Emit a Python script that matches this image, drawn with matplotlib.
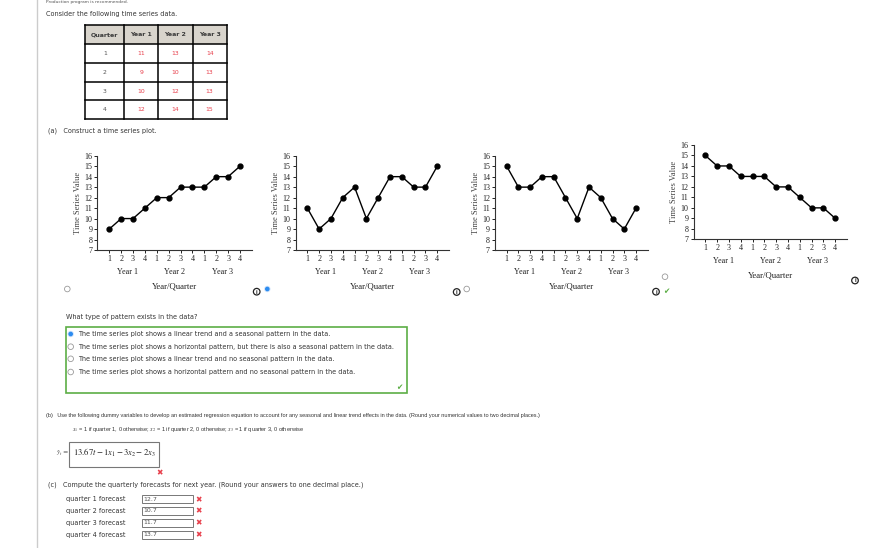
import matplotlib
matplotlib.use("Agg")
import matplotlib.pyplot as plt
from matplotlib.patches import Rectangle, Circle

plt.rcParams["mathtext.fontset"] = "stix"

W, H = 876, 548

# data from the question table
quarters = [1, 2, 3, 4]
years = ["Year 1", "Year 2", "Year 3"]
table_vals = [[11, 13, 14], [9, 10, 13], [10, 12, 13], [12, 14, 15]]

# the four answer choices of part (a)
series_a = [9, 10, 10, 11, 12, 12, 13, 13, 13, 14, 14, 15]
series_b = [table_vals[q][y] for y in range(3) for q in range(4)]
series_c = [15, 13, 13, 14, 14, 12, 10, 13, 12, 10, 9, 11]
series_d = [15, 14, 14, 13, 13, 13, 12, 12, 11, 10, 10, 9]

pattern_opts = [
    "The time series plot shows a linear trend and a seasonal pattern in the data.",
    "The time series plot shows a horizontal pattern, but there is also a seasonal pattern in the data.",
    "The time series plot shows a linear trend and no seasonal pattern in the data.",
    "The time series plot shows a horizontal pattern and no seasonal pattern in the data.",
]
forecast_labels = ["quarter 1 forecast", "quarter 2 forecast", "quarter 3 forecast", "quarter 4 forecast"]
forecast_vals = ["12.7", "10.7", "11.7", "13.7"]

SANS = "DejaVu Sans"
NARROW = "Liberation Sans"
SERIF = "Liberation Serif"
TXT = "#333333"
RED = "#e8404c"
GREEN = "#5cae45"

fig = plt.figure(figsize=(W / 100, H / 100), dpi=100)
fig.patch.set_facecolor("white")

# overlay in pixel coordinates for the page elements
ov = fig.add_axes([0, 0, 1, 1])
ov.set_xlim(0, W)
ov.set_ylim(H, 0)
ov.axis("off")


def t(x, y, s, size=4.7, color=TXT, **kw):
    kw.setdefault("va", "center")
    kw.setdefault("family", SANS)
    ov.text(x, y, s, fontsize=size, color=color, **kw)


def radio(x, y, selected=False):
    if selected:
        ov.add_patch(Circle((x, y), 3.2, facecolor="#cfe3fb", edgecolor="none"))
        ov.add_patch(Circle((x, y), 2.3, facecolor="#2d8cf0", edgecolor="none"))
    else:
        ov.add_patch(Circle((x, y), 2.8, facecolor="white", edgecolor="#9a9a9a", lw=0.6))


def info(x, y):
    ov.add_patch(Circle((x, y), 3.3, facecolor="white", edgecolor="#222222", lw=0.9))
    t(x, y + 0.3, "i", size=3.5, color="#222222", ha="center", weight="bold")


def cross(x, y):
    t(x, y, "\u2716", size=5.5, color=RED, ha="center")


def check(x, y):
    t(x, y, "\u2714", size=5.5, color=GREEN, ha="center")


# page edge and the end of the line above the question
ov.plot([37, 37], [0, H], color="#cccccc", lw=1)
t(46, 1.9, "Production program is recommended.", size=3.2, color="#555555")
t(46, 14, "Consider the following time series data.")

# table
col_x = [85.3, 124.3, 158.3, 192.7, 226.7]
row_y = [25.3, 44, 63.3, 82, 100.3, 119]
ov.add_patch(Rectangle((col_x[0], row_y[0]), col_x[-1] - col_x[0], row_y[1] - row_y[0],
                       facecolor="#d8d4cc", edgecolor="none"))
for x in col_x:
    ov.plot([x, x], [row_y[0], row_y[-1]], color="black", lw=1.1)
for y in row_y:
    ov.plot([col_x[0], col_x[-1]], [y, y], color="black", lw=1.1)
headers = ["Quarter"] + years
for j, hd in enumerate(headers):
    cx = (col_x[j] + col_x[j + 1]) / 2
    t(cx, (row_y[0] + row_y[1]) / 2, hd, size=4.5, ha="center", weight="bold", color="#3a3a3a")
for i, q in enumerate(quarters):
    cy = (row_y[i + 1] + row_y[i + 2]) / 2
    t((col_x[0] + col_x[1]) / 2, cy, str(q), size=4.4, ha="center", color="#555555")
    for j in range(3):
        t((col_x[j + 1] + col_x[j + 2]) / 2, cy, str(table_vals[i][j]), size=4.4, ha="center", color=RED)

t(48, 131, "(a)   Construct a time series plot.")


def ts_plot(l, tp, r, b, vals):
    ax = fig.add_axes([l / W, 1 - b / H, (r - l) / W, (b - tp) / H])
    ax.set_facecolor("none")
    x = list(range(1, len(vals) + 1))
    ax.plot(x, vals, color="black", lw=1, marker="o", ms=3.5, mfc="black", clip_on=False)
    ax.set_xlim(0, 13)
    ax.set_ylim(7, 16)
    ax.set_xticks(x)
    ax.set_xticklabels([q for _ in years for q in quarters])
    ax.set_yticks(range(7, 17))
    for s in ["top", "right"]:
        ax.spines[s].set_visible(False)
    for s in ["left", "bottom"]:
        ax.spines[s].set_linewidth(0.8)
        ax.spines[s].set_color("#333333")
    ax.tick_params(labelsize=5.8, length=2, width=0.7, pad=1.6, colors="#222222")
    for lab in ax.get_xticklabels() + ax.get_yticklabels():
        lab.set_family(SERIF)
    for i, yr in enumerate(years):
        ax.annotate(yr, xy=(2.5 + 4 * i, 0), xycoords=("data", "axes fraction"),
                    xytext=(0, -15.6), textcoords="offset points", ha="center", va="center",
                    fontsize=5.9, family=SERIF, color="#222222")
    ax.annotate("Year/Quarter", xy=(0.5, 0), xycoords="axes fraction", xytext=(0, -26.4),
                textcoords="offset points", ha="center", va="center",
                fontsize=6.3, family=SERIF, color="#222222")
    ax.annotate("Time Series Value", xy=(0, 0.5), xycoords="axes fraction", xytext=(-13.8, 0),
                textcoords="offset points", ha="center", va="center", rotation=90,
                fontsize=6.1, family=SERIF, color="#444444")
    return ax


ts_plot(97.4, 155.7, 251.9, 250, series_a)
ts_plot(295.5, 155.7, 449.1, 250, series_b)
ts_plot(494.9, 155.7, 647.8, 250, series_c)
ts_plot(693.5, 145, 847, 239.3, series_d)

radio(67.3, 289)
info(256.7, 291.7)
radio(267.3, 289, selected=True)
info(456.7, 292)
radio(466.7, 289)
radio(665, 276.7)
info(656, 291.7)
check(666.7, 291.7)
info(855, 280.5)

# pattern question
t(66, 316.7, "What type of pattern exists in the data?")
ov.add_patch(Rectangle((65.7, 327.3), 407.3 - 65.7, 392.7 - 327.3, facecolor="none",
                       edgecolor=GREEN, lw=1.2))
for i, opt in enumerate(pattern_opts):
    y = [334, 346.7, 358.8, 372][i]
    radio(70.7, y, selected=(i == 0))
    t(78, y, opt)
check(399.3, 387.3)

# part (b)
t(46, 415, "(b)   Use the following dummy variables to develop an estimated regression equation to account for "
           "any seasonal and linear trend effects in the data. (Round your numerical values to two decimal places.)",
  size=3.95, family=NARROW)
t(71.7, 429.3, r"$x_1$ = 1 if quarter 1, 0 otherwise; $x_2$ = 1 if quarter 2, 0 otherwise; "
               r"$x_3$ = 1 if quarter 3, 0 otherwise", size=4.1, family=NARROW)
t(56.5, 453.3, r"$\hat{y}_t$ =", size=4.6)
ov.add_patch(Rectangle((69.3, 441.7), 158.7 - 69.3, 466.7 - 441.7, facecolor="white",
                       edgecolor="#777777", lw=0.8))
t(73.3, 452.5, r"$13.67t - 1x_1 - 3x_2 - 2x_3$", size=6.2, color="#222222")
cross(159.5, 472.7)

# part (c)
t(48, 485, "(c)   Compute the quarterly forecasts for next year. (Round your answers to one decimal place.)")
for i, lab in enumerate(forecast_labels):
    y = [499.3, 511, 522.7, 534.5][i]
    t(66, y, lab)
    ov.add_patch(Rectangle((141.7, y - 4), 51, 8, facecolor="white", edgecolor="#777777", lw=0.7))
    t(143.5, y, forecast_vals[i], size=4.5, color="#555555")
    cross(199, y)

fig.savefig("out.png", dpi=100, facecolor="white")
